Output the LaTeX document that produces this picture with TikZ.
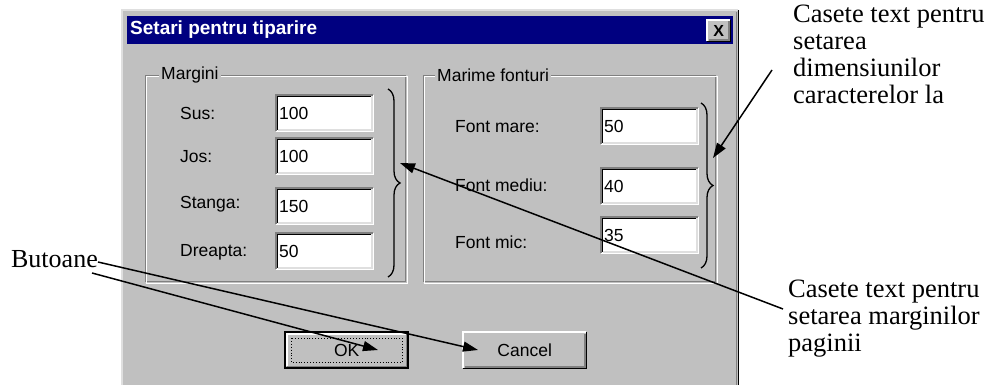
\documentclass[tikz,border=0pt]{standalone}
\usepackage{fontspec}
\setmainfont{Liberation Serif}
\newfontfamily\winfont{Liberation Sans}
\usetikzlibrary{arrows.meta,decorations.pathreplacing,calc}
\definecolor{wingray}{HTML}{C0C0C0}
\definecolor{windark}{HTML}{808080}
\definecolor{winlight}{HTML}{DFDFDF}
\definecolor{winblue}{HTML}{000080}
\newcommand\sunkenbox[1]{%
  \draw[windark,line width=1.2pt] (#1.south west) -- (#1.north west) -- (#1.north east);
  \draw[black,line width=1.5pt] ($(#1.south west)+(1.5,-1.5)$) -- ($(#1.north west)+(1.5,1.5)$) -- ($(#1.north east)+(-1.5,1.5)$);
  \draw[white,line width=1.2pt] (#1.south west) -- (#1.south east) -- (#1.north east);
  \draw[winlight,line width=1.5pt] ($(#1.south west)+(1.5,-1.5)$) -- ($(#1.south east)+(-1.5,-1.5)$) -- ($(#1.north east)+(-1.5,1.5)$);
}
\newcommand\raisedbox[1]{%
  \draw[white,line width=1.5pt] (#1.south west) -- (#1.north west) -- (#1.north east);
  \draw[black,line width=1.5pt] (#1.south west) -- (#1.south east) -- (#1.north east);
  \draw[windark,line width=1.5pt] ($(#1.south west)+(1.5,-1.5)$) -- ($(#1.south east)+(-1.5,-1.5)$) -- ($(#1.north east)+(-1.5,1.5)$);
}
\begin{document}
\begin{tikzpicture}[x=1pt,y=-1pt,
  wfont/.style={font=\winfont\fontsize{17.5}{19}\selectfont},
  lbl/.style={wfont, anchor=west, inner sep=0pt},
  field/.style={wfont, fill=white, minimum width=97pt, minimum height=36pt, anchor=north west,
    inner xsep=3pt, inner ysep=0pt, text width=91pt, align=left},
  group/.style={draw=windark, line width=1.2pt, anchor=north west, inner sep=0pt},
  grouplbl/.style={wfont, fill=wingray, anchor=west, inner xsep=2pt, inner ysep=0pt},
  btn/.style={wfont, fill=wingray, minimum width=123pt, minimum height=36pt, anchor=north west, inner sep=0pt},
  note/.style={font=\fontsize{26.5}{27}\selectfont, anchor=north west, inner sep=0pt, align=left},
  arr/.style={line width=1.5pt, -{Triangle[length=15pt,width=10pt]}},
  brc/.style={decorate, decoration={brace, amplitude=12pt}, line width=1.3pt}
]
\useasboundingbox (0,0) rectangle (989,385);
\fill[white] (0,0) rectangle (989,385);
% dialog window
\node[fill=wingray, minimum width=616pt, minimum height=380pt, anchor=north west, inner sep=0pt] (dlg) at (122,10) {};
\draw[winlight, line width=1.5pt] (dlg.south west) -- (dlg.north west) -- (dlg.north east);
\draw[black, line width=1.5pt] (dlg.north east) -- (dlg.south east);
\draw[windark, line width=1.2pt] ($(dlg.north east)+(-2,2)$) -- ($(dlg.south east)+(-2,0)$);
% title bar
\node[fill=winblue, minimum width=606pt, minimum height=28pt, anchor=north west, inner sep=0pt] (title) at (127,16) {};
\node[font=\winfont\bfseries\fontsize{19}{20}\selectfont, text=white, anchor=west, inner sep=0pt] (ttext) at (130,30) {Setari pentru tiparire};
\node[fill=wingray, minimum width=23pt, minimum height=21pt, anchor=north west, inner sep=0pt,
  font=\winfont\bfseries\fontsize{16}{17}\selectfont] (xbtn) at (707,20) {X};
\raisedbox{xbtn}
% group boxes
\node[group, minimum width=260pt, minimum height=206pt] (gm) at (145,75) {};
\draw[white, line width=1.2pt] ($(gm.north west)+(1.5,1.5)$) rectangle ($(gm.south east)+(1.5,1.5)$);
\node[grouplbl] (gml) at (159,75) {Margini};
\node[group, minimum width=292pt, minimum height=206pt] (gf) at (423,75) {};
\draw[white, line width=1.2pt] ($(gf.north west)+(1.5,1.5)$) rectangle ($(gf.south east)+(1.5,1.5)$);
\node[grouplbl] (gfl) at (435,75) {Marime fonturi};
% margini labels and fields
\node[lbl] (lsus) at (180,113) {Sus:};
\node[lbl] (ljos) at (180,157) {Jos:};
\node[lbl] (lst) at (180,204) {Stanga:};
\node[lbl] (ldr) at (180,252) {Dreapta:};
\node[field] (fsus) at (276,95) {100};
\node[field] (fjos) at (276,138) {100};
\node[field] (fst) at (276,188) {150};
\node[field] (fdr) at (276,233) {50};
\sunkenbox{fsus}\sunkenbox{fjos}\sunkenbox{fst}\sunkenbox{fdr}
% font labels and fields
\node[lbl] (lmare) at (455,127) {Font mare:};
\node[lbl] (lmed) at (455,185) {Font mediu:};
\node[lbl] (lmic) at (455,242) {Font mic:};
\node[field] (fmare) at (601,108) {50};
\node[field] (fmed) at (601,168) {40};
\node[field] (fmic) at (601,217) {35};
\sunkenbox{fmare}\sunkenbox{fmed}\sunkenbox{fmic}
% braces
\coordinate (bm1) at (388,89);
\coordinate (bm2) at (388,277);
\draw[brc] (bm1) -- (bm2);
\coordinate (bf1) at (701,103);
\coordinate (bf2) at (701,268);
\draw[brc] (bf1) -- (bf2);
% buttons
\node[btn] (ok) at (285,332) {OK};
\draw[black, line width=2pt] (ok.south west) rectangle (ok.north east);
\draw[white, line width=1.2pt] ($(ok.south west)+(2,-2)$) -- ($(ok.north west)+(2,2)$) -- ($(ok.north east)+(-2,2)$);
\draw[windark, line width=1.2pt] ($(ok.south west)+(2,-2)$) -- ($(ok.south east)+(-2,-2)$) -- ($(ok.north east)+(-2,2)$);
\draw[black, line width=0.9pt, dotted] ($(ok.north west)+(6,6)$) rectangle ($(ok.south east)+(-6,-6)$);
\node[btn] (cancel) at (463,332) {Cancel};
\raisedbox{cancel}
% annotations
\node[note] (nfont) at (793,5) {Casete text pentru\\setarea\\dimensiunilor\\caracterelor la};
\node[note] (nmarg) at (788,280) {Casete text pentru\\setarea marginilor\\paginii};
\node[font=\fontsize{26}{27}\selectfont, anchor=east, inner sep=0pt] (but) at (98,259) {Butoane};
% connectors
\coordinate (sfont) at (772,70);
\coordinate (tfont) at (713,158);
\draw[arr] (sfont) -- (tfont);
\coordinate (smarg) at (783,309);
\coordinate (tmarg) at (400,163);
\draw[arr] (smarg) -- (tmarg);
\coordinate (sbut1) at (98,262);
\coordinate (sbut2) at (92,273);
\coordinate (tok) at (378,350);
\coordinate (tcancel) at (478,350);
\draw[arr] (sbut1) -- (tcancel);
\draw[arr] (sbut2) -- (tok);
\end{tikzpicture}
\end{document}
